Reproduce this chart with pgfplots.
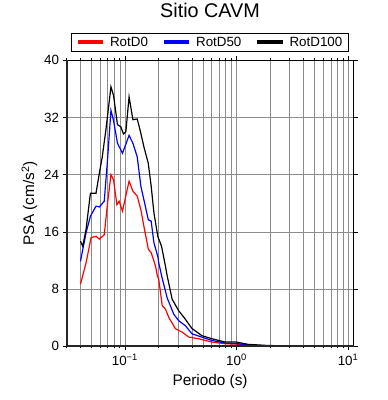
\documentclass[border=0pt]{standalone}
\usepackage{fontspec}
\setmainfont{Liberation Sans}
\usepackage{pgfplots}
\pgfplotsset{compat=1.18}
\begin{document}
\begin{tikzpicture}
\begin{axis}[
  name=ax,
  scale only axis,
  width=289bp, height=288bp,
  xmode=log, xmin=0.03, xmax=11.2,
  ymin=0, ymax=40,
  ytick={0,8,...,40},
  xtick={0.1,1,10},
  xticklabels={10\textsuperscript{−1},10\textsuperscript{0},10\textsuperscript{1}},
  minor xtick={0.03,0.04,0.05,0.06,0.07,0.08,0.09,0.2,0.3,0.4,0.5,0.6,0.7,0.8,0.9,2,3,4,5,6,7,8,9},
  /pgf/number format/assume math mode=true,
  tick label style={font=\fontsize{13.5}{15}\selectfont},
  label style={font=\fontsize{15.5}{18}\selectfont},
  xlabel={Periodo (s)},
  ylabel={PSA (cm/s\textsuperscript{2})},
  xlabel style={at={(axis description cs:0.5,0)}, anchor=base, yshift=-39bp},
  grid=both,
  major grid style={black!45, line width=0.5bp},
  minor grid style={black!45, line width=0.5bp},
  tick align=outside,
  major tick length=4bp, minor tick length=2bp,
  every tick/.style={black, line width=0.6bp},
  axis line style={line width=0.8bp},
  title={Sitio CAVM},
  title style={font=\fontsize{20}{22}\selectfont, at={(0.5,1)}, anchor=base, yshift=37bp},
  legend columns=3,
  legend style={at={(0.5,1.028)}, anchor=south, draw=black, line width=1bp, fill=white,
    font=\fontsize{13.5}{15}\selectfont,
    /tikz/every even column/.append style={column sep=12bp},
    /tikz/every odd column/.append style={column sep=3bp},
    inner xsep=4bp, inner ysep=2bp},
  legend image code/.code={\draw[line width=4bp] (0cm,0cm) -- (0.9cm,0cm);},
]
\addplot[red, line width=1.2bp] table {
0.040 8.7
0.0449 11.7
0.0498 15.2
0.0551 15.4
0.0590 15.0
0.0653 15.6
0.0699 20.0
0.0750 24.0
0.0791 23.3
0.0848 19.8
0.0888 20.3
0.0951 18.9
0.109 23.1
0.118 21.7
0.129 21.0
0.139 19.1
0.148 16.8
0.162 13.6
0.172 13.1
0.188 11.25
0.195 9.9
0.201 9.4
0.216 5.7
0.231 5.2
0.247 4.07
0.284 2.46
0.325 2.0
0.373 1.3
0.457 1.07
0.601 0.6
0.791 0.37
1.04 0.3
1.27 0.15
1.92 0.06
3 0.03
5 0.02
10 0.01
};
\addlegendentry{RotD0}
\addplot[blue, line width=1.2bp] table {
0.040 11.9
0.0449 15.9
0.0491 18.2
0.0551 19.6
0.0590 19.5
0.0653 20.3
0.0699 26.1
0.0750 33.0
0.0791 31.6
0.0858 28.4
0.0951 27.0
0.109 29.5
0.118 28.4
0.129 26.5
0.139 22.4
0.148 20.5
0.162 17.7
0.172 17.5
0.182 14.5
0.197 12.6
0.201 11.7
0.213 9.9
0.239 6.8
0.274 4.5
0.303 3.6
0.348 2.9
0.399 1.76
0.489 1.3
0.601 0.83
0.791 0.46
1.04 0.37
1.27 0.2
1.92 0.08
3 0.04
5 0.02
10 0.01
};
\addlegendentry{RotD50}
\addplot[black, line width=1.2bp] table {
0.040 14.7
0.0419 14.0
0.0449 16.4
0.0491 21.4
0.0551 21.4
0.0590 24.2
0.0627 26.5
0.0676 30.3
0.0750 36.3
0.0791 35.1
0.0858 31.0
0.0920 30.7
0.0970 29.7
0.102 30.0
0.109 34.9
0.118 31.7
0.129 31.8
0.139 29.8
0.148 27.9
0.162 25.6
0.172 22.4
0.182 18.7
0.197 15.4
0.213 14.0
0.231 11.2
0.239 9.9
0.265 6.6
0.303 5.0
0.348 3.8
0.399 2.5
0.489 1.5
0.601 1.07
0.791 0.6
1.0 0.6
1.27 0.28
1.92 0.12
3 0.06
5 0.03
10 0.01
};
\addlegendentry{RotD100}
\end{axis}
\draw[line width=2bp, black!85] (ax.north west) -- (ax.south west) -- (ax.south east);
\path (ax.south west) ++(-67bp,-54bp) rectangle ++(390bp,400bp);
\end{tikzpicture}
\end{document}
